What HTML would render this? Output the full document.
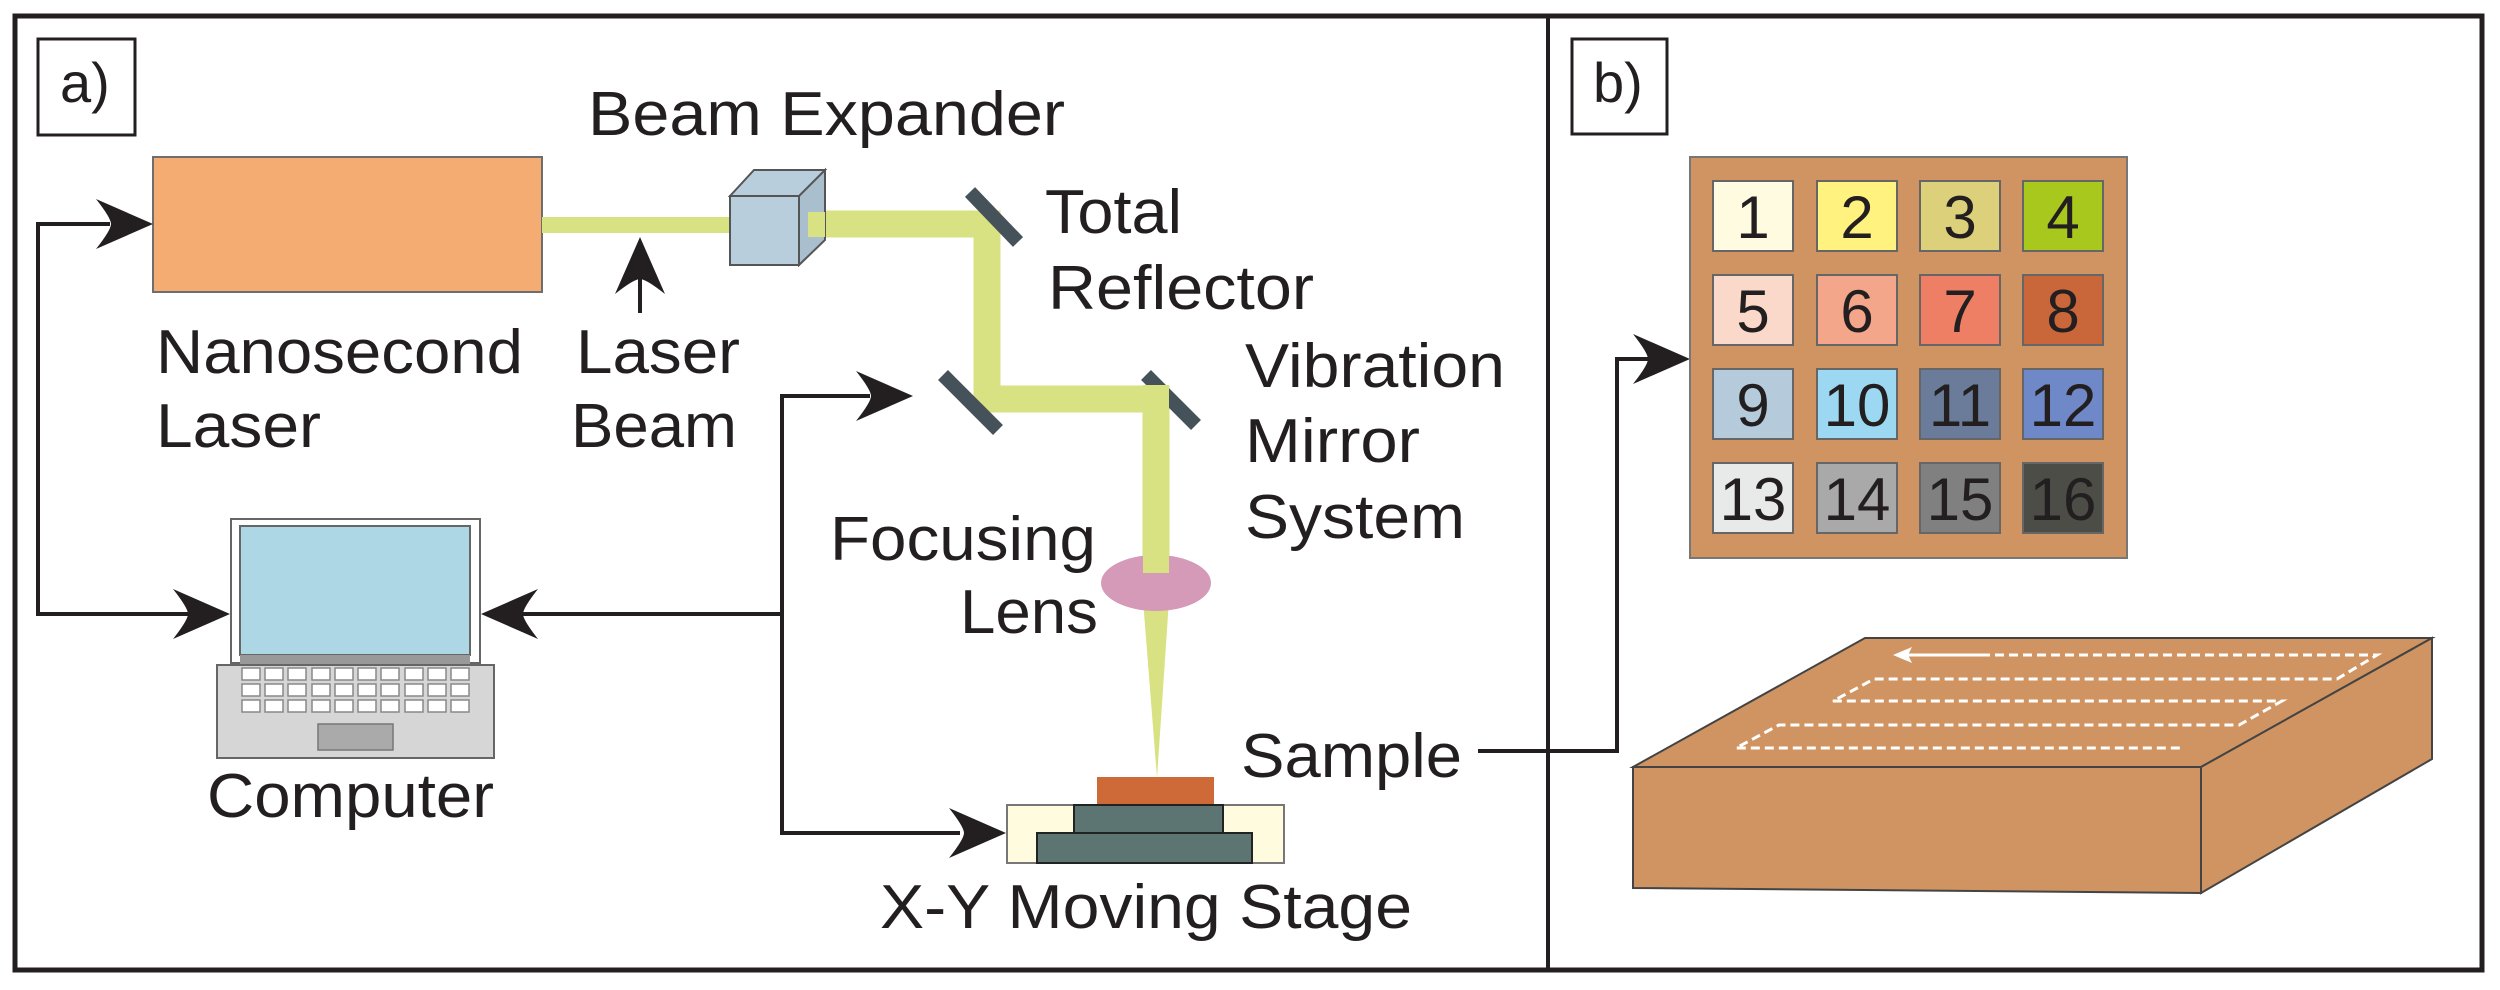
<!DOCTYPE html>
<html><head><meta charset="utf-8"><style>
html,body{margin:0;padding:0;background:#fff;}
svg{display:block;}
text{font-family:"Liberation Sans",sans-serif;fill:#231f20;}
</style></head><body>
<svg width="2500" height="990" viewBox="0 0 2500 990" xmlns="http://www.w3.org/2000/svg">
<defs>
<path id="ah" d="M0,0 L-57,-25 Q-42,-6 -42,0 Q-42,6 -57,25 Z" fill="#231f20"/>
</defs>
<rect x="0" y="0" width="2500" height="990" fill="#fff"/>
<!-- frame -->
<rect x="15" y="16" width="2467" height="954" fill="none" stroke="#231f20" stroke-width="5"/>
<line x1="1548" y1="16" x2="1548" y2="970" stroke="#231f20" stroke-width="4"/>
<!-- labels boxes -->
<rect x="38" y="39" width="97" height="96" fill="#fff" stroke="#231f20" stroke-width="3"/>
<text x="60" y="102" font-size="56">a)</text>
<rect x="1572" y="39" width="95" height="95" fill="#fff" stroke="#231f20" stroke-width="3"/>
<text x="1593" y="102" font-size="56">b)</text>

<!-- laser -->
<rect x="153" y="157" width="389" height="135" fill="#F4AC72" stroke="#6e6e6e" stroke-width="2"/>
<!-- thin beam -->
<rect x="542" y="217" width="190" height="16" fill="#D8E283"/>
<!-- thick beam path -->
<polyline points="805,224 987,224 987,399 1156,399 1156,575" fill="none" stroke="#D8E283" stroke-width="27" stroke-linejoin="miter"/>
<!-- cube -->
<polygon points="730,196 754,170 825,170 801,196" fill="#B8CEDC" stroke="#555" stroke-width="2"/>
<polygon points="799,196 825,170 825,240 799,265" fill="#A9BFCE" stroke="#555" stroke-width="2"/>
<rect x="730" y="196" width="69" height="69" fill="#B8CEDC" stroke="#555" stroke-width="2"/>
<rect x="808" y="212" width="17" height="25" fill="#D8E283"/>
<!-- mirrors -->
<line x1="970" y1="192" x2="1018" y2="242" stroke="#46525a" stroke-width="14"/>
<line x1="943" y1="375" x2="998" y2="430" stroke="#46525a" stroke-width="14"/>
<line x1="1146" y1="375" x2="1196" y2="425" stroke="#46525a" stroke-width="14"/>
<rect x="1143" y="385" width="26" height="40" fill="#D8E283"/>
<!-- lens and cone -->
<polygon points="1143,600 1169,600 1157,778" fill="#D8E283"/>
<ellipse cx="1156" cy="583" rx="55" ry="28" fill="#D59AB8"/>
<rect x="1143" y="555" width="26" height="18" fill="#D8E283"/>
<!-- sample & stage -->
<rect x="1097" y="777" width="117" height="28" fill="#CD6A38"/>
<rect x="1007" y="805" width="277" height="58" fill="#FFFBDF" stroke="#777" stroke-width="2"/>
<rect x="1074" y="805" width="149" height="28" fill="#5C7573" stroke="#222" stroke-width="2"/>
<rect x="1037" y="833" width="215" height="30" fill="#5C7573" stroke="#222" stroke-width="2"/>

<!-- computer -->
<rect x="231" y="519" width="249" height="144" fill="#fff" stroke="#666" stroke-width="2"/>
<rect x="240" y="526" width="230" height="129" fill="#ADD7E4" stroke="#666" stroke-width="2"/>
<rect x="240" y="655" width="230" height="10" fill="#999"/>
<rect x="217" y="665" width="277" height="93" fill="#D6D6D6" stroke="#666" stroke-width="2"/>
<g fill="#fff" stroke="#888" stroke-width="1.5">
<rect x="242" y="668" width="18" height="12"/><rect x="265" y="668" width="18" height="12"/><rect x="288" y="668" width="18" height="12"/><rect x="312" y="668" width="18" height="12"/><rect x="335" y="668" width="18" height="12"/><rect x="358" y="668" width="18" height="12"/><rect x="381" y="668" width="18" height="12"/><rect x="405" y="668" width="18" height="12"/><rect x="428" y="668" width="18" height="12"/><rect x="451" y="668" width="18" height="12"/>
<rect x="242" y="684" width="18" height="12"/><rect x="265" y="684" width="18" height="12"/><rect x="288" y="684" width="18" height="12"/><rect x="312" y="684" width="18" height="12"/><rect x="335" y="684" width="18" height="12"/><rect x="358" y="684" width="18" height="12"/><rect x="381" y="684" width="18" height="12"/><rect x="405" y="684" width="18" height="12"/><rect x="428" y="684" width="18" height="12"/><rect x="451" y="684" width="18" height="12"/>
<rect x="242" y="700" width="18" height="12"/><rect x="265" y="700" width="18" height="12"/><rect x="288" y="700" width="18" height="12"/><rect x="312" y="700" width="18" height="12"/><rect x="335" y="700" width="18" height="12"/><rect x="358" y="700" width="18" height="12"/><rect x="381" y="700" width="18" height="12"/><rect x="405" y="700" width="18" height="12"/><rect x="428" y="700" width="18" height="12"/><rect x="451" y="700" width="18" height="12"/>
</g>
<rect x="318" y="724" width="75" height="26" fill="#AAA" stroke="#777" stroke-width="1.5"/>

<!-- connectors -->
<g fill="none" stroke="#231f20" stroke-width="4">
<polyline points="110,224 38,224 38,614 190,614"/>
<polyline points="870,396 782,396 782,833 960,833"/>
<line x1="782" y1="614" x2="520" y2="614"/>
<line x1="640" y1="313" x2="640" y2="270"/>
<polyline points="1478,751 1617,751 1617,359 1650,359"/>
</g>
<use href="#ah" transform="translate(153,224)"/>
<use href="#ah" transform="translate(230,614)"/>
<use href="#ah" transform="translate(481,614) rotate(180)"/>
<use href="#ah" transform="translate(913,396)"/>
<use href="#ah" transform="translate(1006,833)"/>
<use href="#ah" transform="translate(640,237) rotate(-90)"/>
<use href="#ah" transform="translate(1690,359)"/>

<!-- panel a text -->
<g font-size="62">
<text x="588" y="135" textLength="477" lengthAdjust="spacingAndGlyphs">Beam Expander</text>
<text x="1045" y="233" textLength="137" lengthAdjust="spacingAndGlyphs">Total</text>
<text x="1048" y="309" textLength="266" lengthAdjust="spacingAndGlyphs">Reflector</text>
<text x="156" y="373" textLength="367" lengthAdjust="spacingAndGlyphs">Nanosecond</text>
<text x="156" y="447" textLength="165" lengthAdjust="spacingAndGlyphs">Laser</text>
<text x="576" y="373" textLength="164" lengthAdjust="spacingAndGlyphs">Laser</text>
<text x="571" y="447" textLength="166" lengthAdjust="spacingAndGlyphs">Beam</text>
<text x="1245" y="387" textLength="260" lengthAdjust="spacingAndGlyphs">Vibration</text>
<text x="1245" y="462" textLength="175" lengthAdjust="spacingAndGlyphs">Mirror</text>
<text x="1245" y="538" textLength="220" lengthAdjust="spacingAndGlyphs">System</text>
<text x="830" y="560" textLength="266" lengthAdjust="spacingAndGlyphs">Focusing</text>
<text x="960" y="633" textLength="138" lengthAdjust="spacingAndGlyphs">Lens</text>
<text x="207" y="817" textLength="287" lengthAdjust="spacingAndGlyphs">Computer</text>
<text x="1241" y="777" textLength="221" lengthAdjust="spacingAndGlyphs">Sample</text>
<text x="880" y="928" textLength="532" lengthAdjust="spacingAndGlyphs">X-Y Moving Stage</text>
</g>

<!-- panel b grid -->
<rect x="1690" y="157" width="437" height="401" fill="#D09462" stroke="#777" stroke-width="2"/>
<g stroke="#666" stroke-width="2">
<rect x="1713" y="181" width="80" height="70" fill="#FFFBE0"/>
<rect x="1817" y="181" width="80" height="70" fill="#FFF27F"/>
<rect x="1920" y="181" width="80" height="70" fill="#DDD07A"/>
<rect x="2023" y="181" width="80" height="70" fill="#A8C81E"/>
<rect x="1713" y="275" width="80" height="70" fill="#FAD9CA"/>
<rect x="1817" y="275" width="80" height="70" fill="#F3A68A"/>
<rect x="1920" y="275" width="80" height="70" fill="#EE7F64"/>
<rect x="2023" y="275" width="80" height="70" fill="#C9673A"/>
<rect x="1713" y="369" width="80" height="70" fill="#B5CADB"/>
<rect x="1817" y="369" width="80" height="70" fill="#9DD8F2"/>
<rect x="1920" y="369" width="80" height="70" fill="#6A7C99"/>
<rect x="2023" y="369" width="80" height="70" fill="#6F88C8"/>
<rect x="1713" y="463" width="80" height="70" fill="#E8EAEA"/>
<rect x="1817" y="463" width="80" height="70" fill="#A9A9A9"/>
<rect x="1920" y="463" width="80" height="70" fill="#808080"/>
<rect x="2023" y="463" width="80" height="70" fill="#4D4D48"/>
</g>
<g font-size="60" text-anchor="middle">
<text x="1753" y="238">1</text><text x="1857" y="238">2</text><text x="1960" y="238">3</text><text x="2063" y="238">4</text>
<text x="1753" y="332">5</text><text x="1857" y="332">6</text><text x="1960" y="332">7</text><text x="2063" y="332">8</text>
<text x="1753" y="426">9</text><text x="1857" y="426">10</text><text x="1960" y="426">11</text><text x="2063" y="426">12</text>
<text x="1753" y="520">13</text><text x="1857" y="520">14</text><text x="1960" y="520">15</text><text x="2063" y="520">16</text>
</g>

<!-- slab -->
<polygon points="1865,638 2432,638 2201,767 1633,767" fill="#D09462" stroke="#444" stroke-width="2"/>
<polygon points="1633,767 2201,767 2201,893 1633,888" fill="#D09462" stroke="#444" stroke-width="2"/>
<polygon points="2201,767 2432,638 2432,759 2201,893" fill="#D09462" stroke="#444" stroke-width="2"/>
<g fill="none" stroke="#fff" stroke-width="3" stroke-dasharray="9,5">
<polyline points="1981,655 2377,655 2337,679 1874,679 1833,701 2282,701 2239,725 1779,725 1736,748 2184,748"/>
</g>
<line x1="1905" y1="655" x2="1981" y2="655" stroke="#fff" stroke-width="3"/>
<polygon points="1893,655 1912,647 1908,655 1912,663" fill="#fff"/>
</svg>
</body></html>
